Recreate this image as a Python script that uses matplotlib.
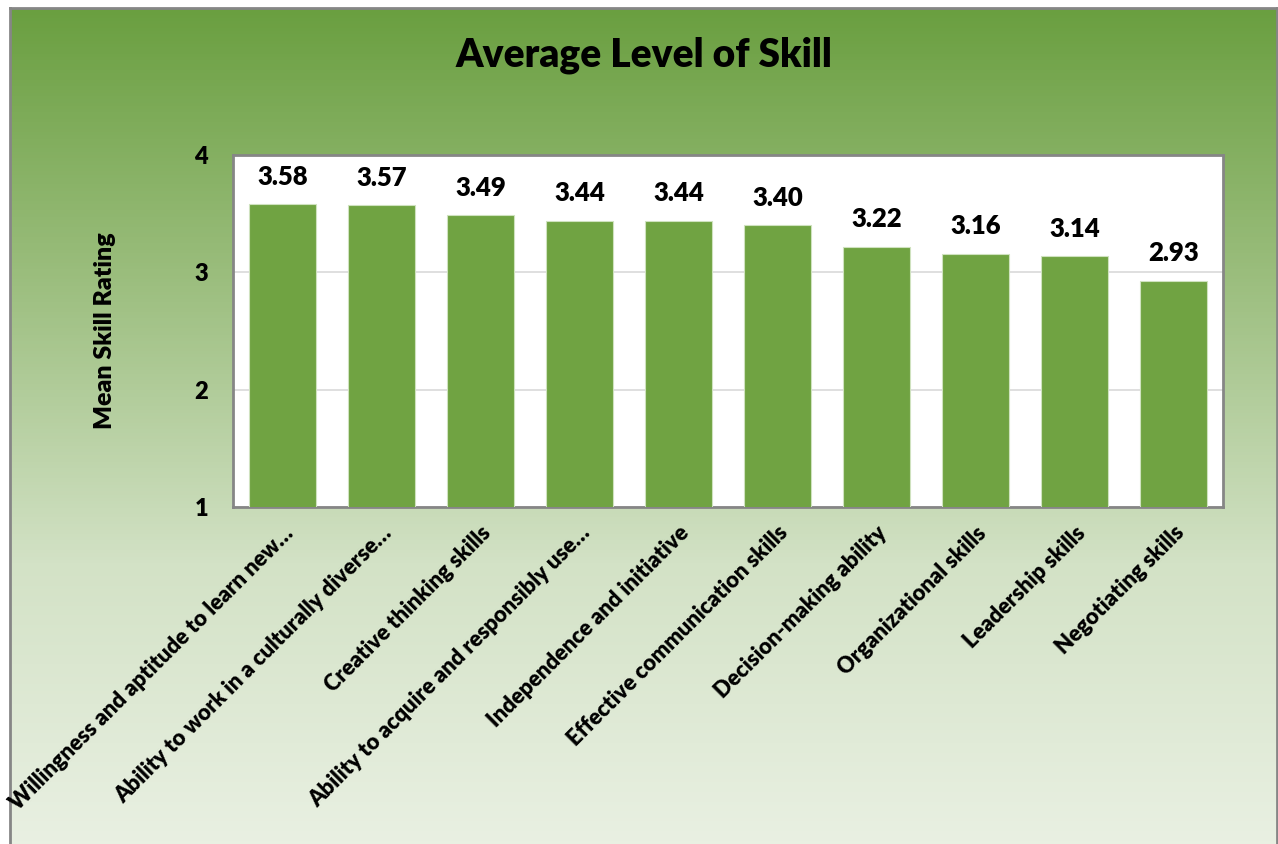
import numpy as np
import matplotlib
matplotlib.use("Agg")
import matplotlib.pyplot as plt
from matplotlib.colors import LinearSegmentedColormap

skills = [
    "Willingness and aptitude to learn new\u2026",
    "Ability to work in a culturally diverse\u2026",
    "Creative thinking skills",
    "Ability to acquire and responsibly use\u2026",
    "Independence and initiative",
    "Effective communication skills",
    "Decision-making ability",
    "Organizational skills",
    "Leadership skills",
    "Negotiating skills",
]
means = [3.58, 3.57, 3.49, 3.44, 3.44, 3.40, 3.22, 3.16, 3.14, 2.93]
yticks = [1, 2, 3, 4]

plt.rcParams['font.family'] = ['Lato', 'DejaVu Sans']
plt.rcParams['font.weight'] = 'bold'
WT = 'heavy'

W, H = 1278, 844
fig = plt.figure(figsize=(W / 100, H / 100), dpi=100)

# gradient background with grey frame
bg = fig.add_axes([10 / W, 0, 1 - 11 / W, 1 - 8 / H])
bg.set_zorder(-1)
grad = LinearSegmentedColormap.from_list('g', ['#6a9f40', '#9dbf80', '#d3e2c6', '#e9f0e2'])
bg.imshow(np.linspace(0, 1, 256).reshape(-1, 1), aspect='auto', cmap=grad,
          extent=[0, 1, 0, 1], origin='upper')
bg.set_xticks([])
bg.set_yticks([])
for s in ['top', 'left', 'right']:
    bg.spines[s].set_color('#868686')
    bg.spines[s].set_linewidth(2)
bg.spines['bottom'].set_visible(False)

ax = fig.add_axes([233 / W, 1 - 507 / H, 990 / W, 352 / H])
ax.set_facecolor('white')
x = np.arange(len(skills))
ax.bar(x, means, width=0.68, color='#70a342', edgecolor='#cfe2bf',
       linewidth=0.8, zorder=3)
ax.set_ylim(1, 4)
ax.set_xlim(-0.5, len(skills) - 0.5)
ax.set_yticks(yticks)
ax.set_yticklabels([str(t) for t in yticks], fontsize=17, fontweight=WT)
ax.yaxis.grid(True, color='#d9d9d9', linewidth=1.2, zorder=0)
ax.tick_params(axis='both', length=0)
ax.tick_params(axis='y', pad=18)

ax.set_xticks(x)
ax.set_xticklabels(skills, rotation=45, ha='right', va='top', rotation_mode='anchor',
                   fontsize=15.8, fontweight=WT)
ax.tick_params(axis='x', pad=11)

for s in ax.spines.values():
    s.set_color('#868686')
    s.set_linewidth(2)

for xi, v in zip(x, means):
    ax.annotate(f"{v:.2f}", (xi, v), xytext=(0, 11), textcoords='offset points',
                ha='center', va='bottom', fontsize=18.5, fontweight=WT)

ax.set_ylabel("Mean Skill Rating", fontsize=18, fontweight=WT, labelpad=56)

fig.text(644 / W, 1 - 55 / H, "Average Level of Skill", ha='center', va='center',
         fontsize=28, fontweight=WT)

fig.savefig('out.png', dpi=100)
